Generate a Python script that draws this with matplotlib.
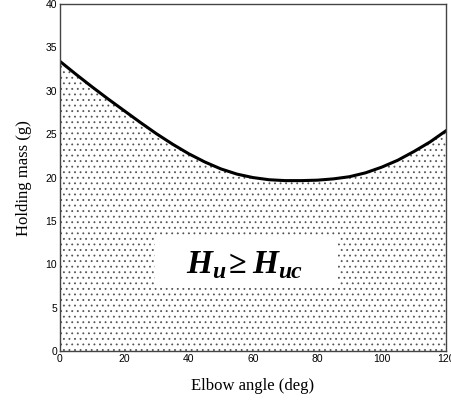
import matplotlib
matplotlib.use("Agg")
from matplotlib import pyplot as plt
from matplotlib.patches import Rectangle

plt.rcParams['hatch.linewidth'] = 0.6

# holding mass limit every 5 deg
angle = [0, 5, 10, 15, 20, 25, 30, 35, 40, 45, 50, 55, 60, 65, 70, 75, 80, 85, 90, 95, 100,
         105, 110, 115, 120]
mass = [33.4, 31.9, 30.45, 29.05, 27.7, 26.35, 25.05, 23.85, 22.75, 21.8, 21.0, 20.4, 20.0, 19.75,
        19.65, 19.65, 19.7, 19.85, 20.1, 20.55, 21.2, 22.0, 23.0, 24.1, 25.4]

xticks = [0, 20, 40, 60, 80, 100, 120]
yticks = [0, 5, 10, 15, 20, 25, 30, 35, 40]

fig = plt.figure(figsize=(4.51, 4.12), dpi=100)
ax = fig.add_axes([0.133, 0.148, 0.856, 0.842])

ax.fill_between(angle, 0, mass, facecolor="white", edgecolor="#555555", hatch="...", linewidth=0)
ax.plot(angle, mass, color="black", linewidth=2.2, solid_joinstyle="round")

ax.set_xlim(0, 120)
ax.set_ylim(0, 40)
ax.set_xticks(xticks)
ax.set_yticks(yticks)
ax.tick_params(direction="in", length=0, labelsize=7.5, pad=2)
for lab in ax.get_xticklabels() + ax.get_yticklabels():
    lab.set_family("Liberation Sans")
for s in ax.spines.values():
    s.set_color("#444444")
    s.set_linewidth(1.0)

ax.set_xlabel("Elbow angle (deg)", family="Liberation Serif", fontsize=12, labelpad=10)
ax.set_ylabel("Holding mass (g)", family="Liberation Serif", fontsize=12, labelpad=10)

# white label box
ax.add_patch(Rectangle((29.5, 7.26), 56.9, 6.0, facecolor="white", edgecolor="none", zorder=3))

# H_u >= H_uc built from pieces, subscripts nearly full size
big = dict(family="Liberation Serif", weight="bold", style="italic", fontsize=24)
sub = dict(family="Liberation Serif", weight="bold", style="italic", fontsize=17)
geq = dict(family="Liberation Serif", weight="bold", fontsize=23)
pieces = [("H", 0, 0, big), ("u", 18.5, -3.6, sub), ("\u2265", 30.5, 0, geq),
          ("H", 47.5, 0, big), ("uc", 66, -3.6, sub)]
for txt, dx, dy, kw in pieces:
    ax.annotate(txt, xy=(39.4, 9.0), xytext=(dx, dy), textcoords="offset points",
                ha="left", va="baseline", zorder=4, **kw)

fig.savefig("out.png", dpi=100)
